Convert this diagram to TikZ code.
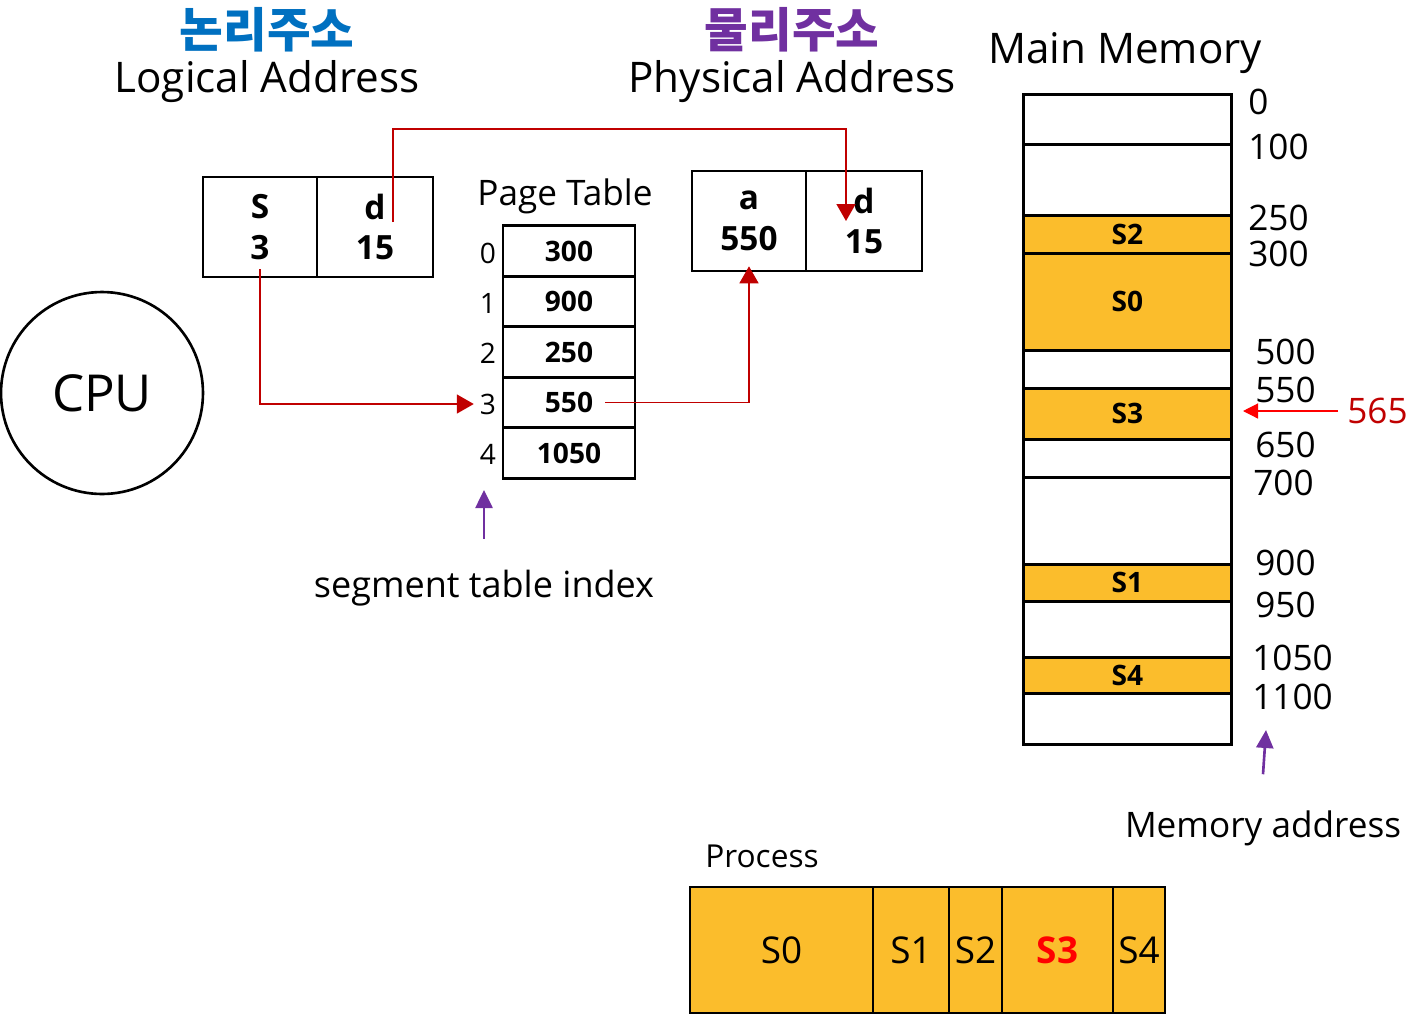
\documentclass[tikz,border=0pt]{standalone}
\usepackage{fontspec}
\setmainfont{Open Sans}
\newfontfamily\kofont{Noto Sans CJK KR}
\usetikzlibrary{arrows.meta}
\definecolor{segfill}{RGB}{251,189,44}
\definecolor{linkred}{RGB}{192,0,0}
\definecolor{titleblue}{RGB}{0,112,192}
\definecolor{titlepurple}{RGB}{112,48,160}
\begin{document}
\begin{tikzpicture}[x=0.02cm, y=-0.02cm,
  title/.style={font=\fontsize{24}{24}\selectfont},
  kotitle/.style={font=\kofont\bfseries\fontsize{27}{27}\selectfont},
  plain/.style={font=\fontsize{20}{20}\selectfont},
  addrcell/.style={draw, line width=1.5pt, minimum width=2.3cm, minimum height=2cm, inner sep=0pt, align=center, font=\fontsize{19}{23}\selectfont\bfseries},
  ptcell/.style={draw, line width=1.5pt, minimum width=2.64cm, minimum height=1.01cm, inner sep=0pt, font=\fontsize{16}{16}\selectfont\bfseries},
  ptidx/.style={font=\fontsize{16}{16}\selectfont},
  memfree/.style={draw, line width=1.5pt, anchor=north west, minimum width=4.16cm, inner sep=0pt},
  memseg/.style={memfree, fill=segfill, font=\fontsize{16}{16}\selectfont\bfseries},
  memaddr/.style={anchor=west, inner sep=0pt, font=\fontsize{20}{20}\selectfont},
  proccell/.style={draw, line width=1.5pt, fill=segfill, minimum height=2.52cm, inner sep=0pt, font=\fontsize{21}{21}\selectfont},
  link/.style={draw=linkred, line width=0.9pt, -{Triangle[length=0.34cm, width=0.38cm]}},
  hint/.style={draw=titlepurple, line width=1.5pt, -{Triangle[length=0.36cm, width=0.34cm]}}]
\useasboundingbox (0,0) rectangle (1408,1018);

% titles
\node[kotitle, text=titleblue] (lkor) at (267,30) {논리주소};
\node[title] (ltitle) at (267,82) {Logical Address};
\node[kotitle, text=titlepurple] (pkor) at (792,30) {물리주소};
\node[title] (ptitle) at (792,82) {Physical Address};
\node[title] (mtitle) at (1125,53) {Main Memory};

% cpu
\node[draw, circle, line width=1.5pt, minimum size=4.04cm, font=\fontsize{29}{29}\selectfont] (cpu) at (102,393) {CPU};

% logical address
\node[addrcell, minimum width=2.28cm] (ls) at (260,227) {S\\3};
\node[addrcell, minimum width=2.32cm] (ld) at (375,227) {d\\15};

% page table
\node[plain] (ptlabel) at (565,196) {Page Table};
\node[ptcell] (pt0) at (569,251) {300};
\node[ptcell] (pt1) at (569,301.5) {900};
\node[ptcell] (pt2) at (569,352) {250};
\node[ptcell] (pt3) at (569,402.5) {550};
\node[ptcell] (pt4) at (569,453) {1050};
\node[ptidx] (i0) at (488,253) {0};
\node[ptidx] (i1) at (488,303) {1};
\node[ptidx] (i2) at (488,353) {2};
\node[ptidx] (i3) at (488,404) {3};
\node[ptidx] (i4) at (488,454) {4};
\node[plain, font=\fontsize{20.5}{20}\selectfont] (sti) at (484,588) {segment table index};
\coordinate (stitip) at (484,490);

% physical address
\node[addrcell, minimum width=2.28cm] (pa) at (749,221) {a\\550};
\node[addrcell, minimum width=2.32cm] (pd) at (864,221) {d\\15};

% main memory
\node[memfree, minimum height=1cm] (m0) at (1022,93) {};
\node[memfree, minimum height=1.42cm] (m1) at (1022,143) {};
\node[memseg, minimum height=0.76cm] (s2) at (1022,214) {S2};
\node[memseg, minimum height=1.94cm] (s0) at (1022,252) {S0};
\node[memfree, minimum height=0.76cm] (m2) at (1022,349) {};
\node[memseg, minimum height=1.02cm] (s3) at (1022,387) {S3};
\node[memfree, minimum height=0.76cm] (m3) at (1022,438) {};
\node[memfree, minimum height=1.74cm] (m4) at (1022,476) {};
\node[memseg, minimum height=0.74cm] (s1) at (1022,563) {S1};
\node[memfree, minimum height=1.12cm] (m5) at (1022,600) {};
\node[memseg, minimum height=0.72cm] (s4) at (1022,656) {S4};
\node[memfree, minimum height=1.02cm] (m6) at (1022,692) {};

\node[memaddr] (a0) at (1248,102) {0};
\node[memaddr] (a100) at (1248,147) {100};
\node[memaddr] (a250) at (1248,218) {250};
\node[memaddr] (a300) at (1248,254) {300};
\node[memaddr] (a500) at (1255,352) {500};
\node[memaddr] (a550) at (1255,390) {550};
\node[memaddr] (a650) at (1255,445) {650};
\node[memaddr] (a700) at (1253,483) {700};
\node[memaddr] (a900) at (1255,563) {900};
\node[memaddr] (a950) at (1255,605) {950};
\node[memaddr] (a1050) at (1252,658) {1050};
\node[memaddr] (a1100) at (1252,697) {1100};

\node[memaddr, text=linkred] (a565) at (1347,411) {565};
\coordinate (s3tip) at (1243,411);
\node[plain] (maddr) at (1263,828) {Memory address};
\coordinate (maddrtip) at (1266,730);

% process
\node[plain, font=\fontsize{18}{18}\selectfont] (proclabel) at (762,856) {Process};
\node[proccell, minimum width=3.66cm] (p0) at (781.5,950) {S0};
\node[proccell, minimum width=1.52cm] (p1) at (911,950) {S1};
\node[proccell, minimum width=1.06cm] (p2) at (975.5,950) {S2};
\node[proccell, minimum width=2.22cm, text=red, font=\fontsize{21}{21}\selectfont\bfseries] (p3) at (1057.5,950) {S3};
\node[proccell, minimum width=1.04cm] (p4) at (1139,950) {S4};

% links
\draw[link] ([yshift=0.18cm]ls.south) |- (i3.west);
\draw[link] ([xshift=0.36cm, yshift=0.1cm]ld.center) -- ++(0,-93) -| ([xshift=-0.36cm]pd.center);
\draw[link] ([xshift=0.72cm]pt3.center) -| ([yshift=0.12cm]pa.south);
\draw[link, line width=0.7pt, draw=red, -{Triangle[length=0.3cm, width=0.3cm]}] ([xshift=-0.18cm]a565.west) -- (s3tip);
\draw[hint] ([yshift=0.5cm]sti.north) -- (stitip);
\draw[hint] ([yshift=0.6cm]maddr.north) -- (maddrtip);
\end{tikzpicture}
\end{document}
